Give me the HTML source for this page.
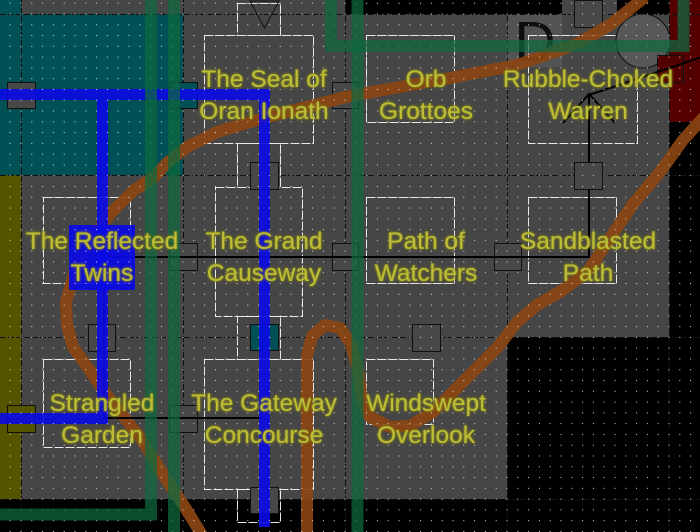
<!DOCTYPE html>
<html><head><meta charset="utf-8"><style>
html,body{margin:0;padding:0;background:#000;}
#c{position:relative;width:700px;height:532px;overflow:hidden;background:#000;}
svg{position:absolute;left:0;top:0;}
.t{position:absolute;width:240px;text-align:center;font-family:"Liberation Sans",Arial,sans-serif;font-size:24.5px;line-height:32px;color:#bdbd38;text-shadow:0 0 1px #8a8a1e,0 0 2px #8a8a1e,0 0 3px rgba(130,130,25,0.9);white-space:nowrap;}
</style></head><body><div id="c">
<svg width="700" height="532" viewBox="0 0 700 532" xmlns="http://www.w3.org/2000/svg">
<defs>
<pattern id="dots" x="20.5" y="13.5" width="10.8" height="10.78" patternUnits="userSpaceOnUse">
<rect x="0" y="0" width="1" height="1" fill="#f0f0f0"/>
</pattern>
</defs>
<rect width="700" height="532" fill="#000"/>
<!-- gray floor -->
<rect x="21" y="14" width="648" height="485" fill="#464646"/>
<rect x="21" y="0" width="324" height="14" fill="#464646"/>
<rect x="562" y="0" width="55" height="14" fill="#464646"/>
<rect x="507" y="337" width="162" height="162" fill="#000"/>
<!-- teal / olive / red regions -->
<rect x="0" y="0" width="21" height="14" fill="#005055"/>
<rect x="0" y="14" width="183" height="161" fill="#005055"/>
<rect x="0" y="175" width="21" height="324" fill="#555500"/>
<rect x="669" y="0" width="31" height="122" fill="#550000"/>
<rect x="507" y="14" width="55" height="53" fill="#535353"/>
<!-- grid lines -->
<g stroke="#111" stroke-width="1" stroke-dasharray="6 2" fill="none">
<line x1="21.5" y1="0" x2="21.5" y2="532"/>
<line x1="183.5" y1="0" x2="183.5" y2="532"/>
<line x1="345.5" y1="0" x2="345.5" y2="532"/>
<line x1="507.5" y1="0" x2="507.5" y2="532"/>
<line x1="669.5" y1="0" x2="669.5" y2="532"/>
<line x1="0" y1="14.5" x2="700" y2="14.5"/>
<line x1="0" y1="175.5" x2="700" y2="175.5"/>
<line x1="0" y1="337.5" x2="700" y2="337.5"/>
<line x1="0" y1="499.5" x2="700" y2="499.5"/>
</g>
<!-- rooms -->
<g stroke="#e8e8e8" stroke-width="1" stroke-dasharray="9 2" fill="none">
<rect x="204.5" y="35.5" width="109" height="108"/>
<rect x="237.5" y="3.5" width="43" height="32"/>
<rect x="237.5" y="143.5" width="43" height="44"/>
<rect x="366.5" y="35.5" width="88" height="87"/>
<rect x="528.5" y="35.5" width="109" height="108"/>
<rect x="43.5" y="197.5" width="87" height="86"/>
<rect x="215.5" y="187.5" width="87" height="129"/>
<rect x="237.5" y="316.5" width="43" height="43"/>
<rect x="366.5" y="197.5" width="88" height="86"/>
<rect x="528.5" y="197.5" width="88" height="86"/>
<rect x="43.5" y="359.5" width="87" height="88"/>
<rect x="204.5" y="359.5" width="109" height="130"/>
<rect x="237.5" y="489.5" width="43" height="33"/>
<rect x="366.5" y="359.5" width="67" height="65"/>
</g>
<!-- triangle at top -->
<path d="M250,1 L279,1 L264.5,28 Z" fill="none" stroke="#111" stroke-width="1"/>
<!-- circle -->
<circle cx="643" cy="41" r="27" fill="#575757" stroke="#111" stroke-width="1"/>
<!-- connector boxes -->
<g stroke="#111" stroke-width="1">
<rect x="7.5" y="82.5" width="28" height="26" fill="#484848"/>
<rect x="169.5" y="82.5" width="28" height="26" fill="#005055"/>
<rect x="332.5" y="82.5" width="26" height="26" fill="#484848"/>
<rect x="250.5" y="162.5" width="28" height="27" fill="#484848"/>
<rect x="574.5" y="0.5" width="28" height="27" fill="#484848"/>
<rect x="574.5" y="162.5" width="28" height="27" fill="#484848"/>
<rect x="88.5" y="324.5" width="27" height="27" fill="#484848"/>
<rect x="250.5" y="324.5" width="28" height="26" fill="#005055"/>
<rect x="412.5" y="324.5" width="28" height="27" fill="#484848"/>
<rect x="7.5" y="405.5" width="28" height="27" fill="#555500"/>
<rect x="169.5" y="405.5" width="28" height="27" fill="#484848"/>
<rect x="169.5" y="243.5" width="28" height="27" fill="#484848"/>
<rect x="332.5" y="243.5" width="26" height="27" fill="#484848"/>
<rect x="494.5" y="243.5" width="27" height="27" fill="#484848"/>
<rect x="250.5" y="487.5" width="28" height="26" fill="#484848"/>
<rect x="657.5" y="55.5" width="26" height="27" fill="#550000"/>
</g>
<!-- D glyph -->
<text x="535" y="61" font-family="Liberation Sans, Arial, sans-serif" font-size="57" text-anchor="middle" fill="#0e0e0e">D</text>
<!-- orange paths -->
<g fill="none" stroke="#8b4513" stroke-width="12" stroke-linejoin="round" stroke-linecap="butt" opacity="0.92">
<polyline points="645,-3 610,25 577,44 517,65 450,78 350,96 267,117 217,132 187,147 167,163 155,176 133,191 110,214 90,241 75,270 66,302 67,325 73,347 88,368 111,401 140,437 166,479 186,509 202,535"/>
<polyline points="307,535 307,400 307,356 312,336 325,325 340,328 351,344 358,370 362,398 370,417 390,427 410,426 433,412 460,385 483,362 498,347 517,322 537,305 563,290 589,270 610,238 633,204 660,172 683,140 704,117"/>
</g>
<!-- black connector lines -->
<g fill="none" stroke="#000" stroke-width="2">
<path d="M104,257 H589 V189"/>
<path d="M104,257 V418 H265"/>
<path d="M589,162 V95 M563,123 L589,94 L615,123 M589,95 L702,57"/>
</g>
<!-- blue -->
<g fill="#0a0ae6" opacity="0.92">
<rect x="69" y="225" width="66" height="65"/>
</g>
<g fill="#0a0ae6" opacity="0.9">
<path d="M0,89 H270 V527 H259 V100 H108 V424 H0 V413 H97 V100 H0 Z"/>
</g>
<!-- dots -->
<rect x="0" y="0" width="700" height="532" fill="url(#dots)" opacity="0.9"/>
<!-- green paths -->
<g fill="none" stroke="rgb(14,105,63)" stroke-width="12" stroke-opacity="0.72" stroke-linejoin="miter">
<path d="M331,0 V46 H683.5 V0"/>
<path d="M357.5,0 V532"/>
<path d="M151,0 V514.5 H0"/>
<path d="M174,0 V532"/>
</g>
</svg>
<div class="t" style="left:144px;top:64px">The Seal of<br>Oran Ionath</div>
<div class="t" style="left:306px;top:64px">Orb<br>Grottoes</div>
<div class="t" style="left:468px;top:64px">Rubble-Choked<br>Warren</div>
<div class="t" style="left:-18px;top:226px">The Reflected<br>Twins</div>
<div class="t" style="left:144px;top:226px">The Grand<br>Causeway</div>
<div class="t" style="left:306px;top:226px">Path of<br>Watchers</div>
<div class="t" style="left:468px;top:226px">Sandblasted<br>Path</div>
<div class="t" style="left:-18px;top:388px">Strangled<br>Garden</div>
<div class="t" style="left:144px;top:388px">The Gateway<br>Concourse</div>
<div class="t" style="left:306px;top:388px">Windswept<br>Overlook</div>
</div></body></html>
